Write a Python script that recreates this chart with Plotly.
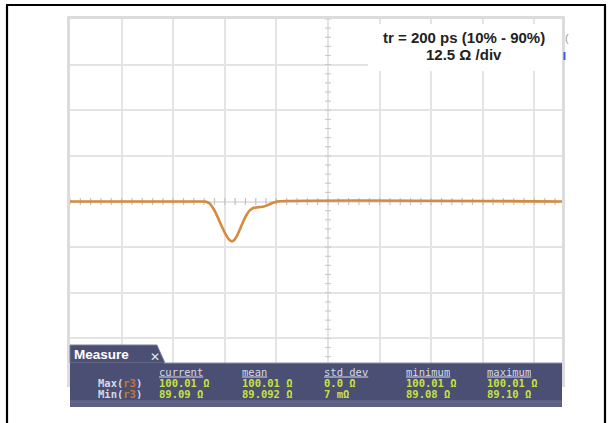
import numpy as np
import plotly.graph_objects as go

# ---------------- data ----------------
time_div = [0.0, 2.55, 2.62, 2.70, 2.78, 2.86, 2.94, 3.02, 3.08, 3.13, 3.18, 3.24,
            3.30, 3.36, 3.42, 3.48, 3.55, 3.65, 3.74, 3.80, 3.88, 3.95, 4.02, 9.6]
impedance_ohm = [100.01, 100.01, 100.0, 99.5, 98.0, 95.8, 93.2, 90.9, 89.6, 89.09, 89.4, 90.7,
                 92.6, 94.6, 96.3, 97.5, 98.2, 98.45, 98.55, 98.8, 99.3, 99.7, 100.01, 100.01]

ohm_per_div = 12.5
center_ohm = 100.0
n_ydiv = 8
x_visible_div = 9.535

annot_line1 = "tr = 200 ps (10% - 90%)"
annot_line2 = "12.5 \u03a9 /div"

measure_cols = ["current", "mean", "std dev", "minimum", "maximum"]
max_values = ["100.01 \u03a9", "100.01 \u03a9", "0.0 \u03a9", "100.01 \u03a9", "100.01 \u03a9"]
min_values = ["89.09 \u03a9", "89.092 \u03a9", "7 m\u03a9", "89.08 \u03a9", "89.10 \u03a9"]
row_labels = ["Max", "Min"]
source_label = "r3"

# ---------------- layout helpers ----------------
W, H = 611, 423
L, R, T, B = 70, 562, 19, 384  # plot area in pixels


def px(p):
    return (p - L) / (R - L)


def py(p):
    return (B - p) / (B - T)


y_lo = center_ohm - ohm_per_div * n_ydiv / 2
y_hi = center_ohm + ohm_per_div * n_ydiv / 2

fig = go.Figure()

# minor tick marks on the centre horizontal graticule line
tick_x = np.arange(0, 10.001, 0.2)
fig.add_trace(go.Scatter(
    x=tick_x, y=[center_ohm] * len(tick_x), mode="markers",
    marker=dict(symbol="line-ns", size=5, line=dict(color="#c2c2c2", width=1.2)),
    hoverinfo="skip", showlegend=False))
# minor tick marks on the centre vertical graticule line
tick_y = np.arange(y_lo, y_hi + 0.001, ohm_per_div / 5)
fig.add_trace(go.Scatter(
    x=[5] * len(tick_y), y=tick_y, mode="markers",
    marker=dict(symbol="line-ew", size=4, line=dict(color="#c8c8c8", width=1.2)),
    hoverinfo="skip", showlegend=False))

# waveform
fig.add_trace(go.Scatter(
    x=time_div, y=impedance_ohm, mode="lines",
    line=dict(color="#d68a3e", width=2.6, shape="spline", smoothing=0.6),
    hoverinfo="skip", showlegend=False))

fig.update_xaxes(range=[0, x_visible_div], dtick=1, tick0=0, showgrid=True,
                 gridcolor="#e4e4e4", gridwidth=2, zeroline=False,
                 showticklabels=False, ticks="", showline=True,
                 linecolor="#dcdcdc", linewidth=3, mirror=True)
fig.update_yaxes(range=[y_lo, y_hi], dtick=ohm_per_div, tick0=y_lo, showgrid=True,
                 gridcolor="#e4e4e4", gridwidth=2, zeroline=False,
                 showticklabels=False, ticks="", showline=True,
                 linecolor="#dcdcdc", linewidth=3, mirror=True)

shapes = []
# outer black frame (top, left, right)
for x0, y0, x1, y1 in [(6, 5, 606, 5), (7, 5, 7, 423), (605, 5, 605, 423)]:
    shapes.append(dict(type="line", xref="paper", yref="paper",
                       x0=px(x0), y0=py(y0), x1=px(x1), y1=py(y1),
                       line=dict(color="black", width=2.2)))
# white annotation box
shapes.append(dict(type="rect", xref="paper", yref="paper",
                   x0=px(368), x1=px(562), y0=py(71), y1=py(24),
                   fillcolor="white", line=dict(width=0)))
# small UI fragments at right edge
shapes.append(dict(type="rect", xref="paper", yref="paper",
                   x0=px(563.5), x1=px(565.5), y0=py(60), y1=py(52),
                   fillcolor="#3f5ad8", line=dict(width=0)))
# measure tab
tab_path = "M {} {} L {} {} Q {} {} {} {} L {} {} L {} {} Z".format(
    px(70), py(363), px(70), py(345), px(150), py(345), px(157), py(345),
    px(160), py(352), px(165), py(363), px(70), py(363))
shapes.append(dict(type="path", xref="paper", yref="paper", path=tab_path,
                   fillcolor="#4b4f73", line=dict(color="#7c7f9c", width=1)))
# measure panel body with lighter band at the bottom
shapes.append(dict(type="rect", xref="paper", yref="paper",
                   x0=px(70), x1=px(562), y0=py(407), y1=py(363),
                   fillcolor="#4b4f73", line=dict(width=0)))
shapes.append(dict(type="rect", xref="paper", yref="paper",
                   x0=px(70), x1=px(562), y0=py(407), y1=py(401),
                   fillcolor="#5d6082", line=dict(width=0)))
shapes.append(dict(type="rect", xref="paper", yref="paper",
                   x0=px(70), x1=px(562), y0=py(403), y1=py(400),
                   fillcolor="#666989", line=dict(width=0), opacity=0.6))
shapes.append(dict(type="line", xref="paper", yref="paper",
                   x0=px(164), x1=px(562), y0=py(363), y1=py(363),
                   line=dict(color="#8d90ac", width=1)))

annotations = []
annotations.append(dict(xref="paper", yref="paper", x=px(464), y=py(37),
                        text="<b>" + annot_line1 + "</b>", showarrow=False,
                        xanchor="center", yanchor="middle",
                        font=dict(family="Liberation Sans, Arial", size=15, color="#222222")))
annotations.append(dict(xref="paper", yref="paper", x=px(464), y=py(54),
                        text="<b>" + annot_line2 + "</b>", showarrow=False,
                        xanchor="center", yanchor="middle",
                        font=dict(family="Liberation Sans, Arial", size=15, color="#222222")))
annotations.append(dict(xref="paper", yref="paper", x=px(562.5), y=py(38),
                        text="(", showarrow=False, xanchor="left", yanchor="middle",
                        font=dict(family="Liberation Sans, Arial", size=11, color="#9a9a9a")))

annotations.append(dict(xref="paper", yref="paper", x=px(72), y=py(354),
                        text="<b>Measure</b>", showarrow=False, xanchor="left",
                        yanchor="middle",
                        font=dict(family="Liberation Sans, Arial", size=13.5, color="white")))
annotations.append(dict(xref="paper", yref="paper", x=px(155), y=py(357),
                        text="\u2715", showarrow=False, xanchor="center", yanchor="middle",
                        font=dict(family="DejaVu Sans", size=12, color="#e6e6ee")))

mono = "DejaVu Sans Mono, Liberation Mono, monospace"
fs = 10.5
char_w = fs * 0.602
row_h = 10
col_x = [157, 240, 322, 404, 485]
for cx, name, vmax, vmin in zip(col_x, measure_cols, max_values, min_values):
    annotations.append(dict(xref="paper", yref="paper", x=px(cx), y=py(371.5),
                            text=name, showarrow=False,
                            xanchor="left", yanchor="middle", height=row_h,
                            font=dict(family=mono, size=fs, color="#d6d8e6")))
    shapes.append(dict(type="line", xref="paper", yref="paper",
                       x0=px(cx + 2), x1=px(cx + 2 + char_w * len(name)),
                       y0=py(377), y1=py(377),
                       line=dict(color="#d6d8e6", width=1)))
    annotations.append(dict(xref="paper", yref="paper", x=px(cx), y=py(383),
                            text="<b>" + vmax + "</b>", showarrow=False,
                            xanchor="left", yanchor="middle", height=row_h,
                            font=dict(family=mono, size=fs, color="#c9e23e")))
    annotations.append(dict(xref="paper", yref="paper", x=px(cx), y=py(394),
                            text="<b>" + vmin + "</b>", showarrow=False,
                            xanchor="left", yanchor="middle", height=row_h,
                            font=dict(family=mono, size=fs, color="#c9e23e")))
for ry, lab in zip([383, 394], row_labels):
    annotations.append(dict(xref="paper", yref="paper", x=px(144), y=py(ry),
                            text="<b>" + lab + "(<span style='color:#c8762a'>" + source_label
                                 + "</span>)</b>",
                            showarrow=False, xanchor="right", yanchor="middle",
                            height=row_h,
                            font=dict(family=mono, size=fs, color="#d6d8e6")))

fig.update_layout(
    width=W, height=H,
    margin=dict(l=L, r=W - R, t=T, b=H - B, pad=0),
    paper_bgcolor="white", plot_bgcolor="white",
    shapes=shapes, annotations=annotations, showlegend=False,
)

fig.write_html("out.html", config={"displayModeBar": False, "staticPlot": True},
               post_script="document.body.style.margin='0';document.body.style.overflow='hidden';")
